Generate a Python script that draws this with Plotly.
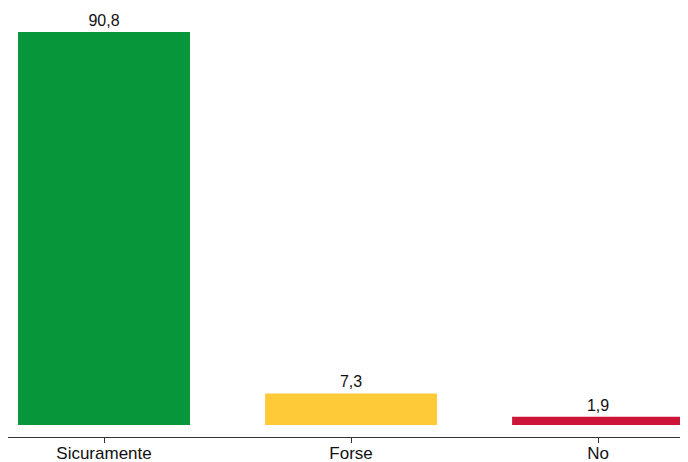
import plotly.graph_objects as go

categories = ["Sicuramente", "Forse", "No"]
values = [90.8, 7.3, 1.9]
colors = ["#07963A", "#FECA37", "#CC1538"]

fig = go.Figure(go.Bar(
    x=categories, y=values,
    marker=dict(color=colors, line=dict(width=0)),
    width=0.696,
    texttemplate="%{y:.1f}",
    textposition="outside",
    textfont=dict(family="Liberation Sans, Arial", size=16, color="#111111"),
    cliponaxis=False,
))

# page body has an 8px margin; size the figure to fit the 688x462 window
fig.update_layout(
    width=680, height=454,
    margin=dict(l=0, r=0, t=12, b=25),
    paper_bgcolor="white", plot_bgcolor="white",
    separators=",.",
    showlegend=False,
    font=dict(family="Liberation Sans, Arial", color="#111111"),
    xaxis=dict(
        range=[-0.3887, 2.364], showline=True, linecolor="#333333", linewidth=1,
        ticks="outside", ticklen=5, tickcolor="#333333", tickwidth=1,
        tickfont=dict(size=17, color="#111111"), showgrid=False, automargin=False,
        ticklabelstandoff=-4,
        fixedrange=True,
    ),
    yaxis=dict(range=[-2.77, 93.6], visible=False, showgrid=False, zeroline=False),
)

fig.write_html("out.html")
